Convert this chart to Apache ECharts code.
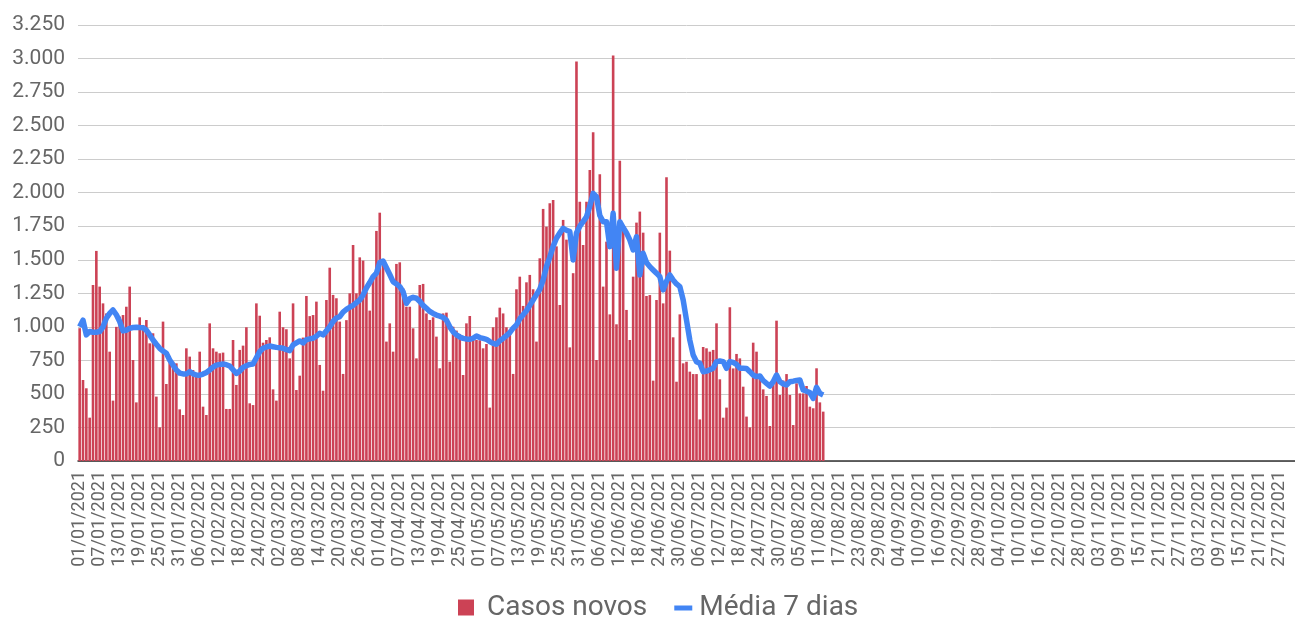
<!DOCTYPE html>
<html>
<head>
<meta charset="utf-8">
<title>Casos novos 2021</title>
<script src="https://cdn.jsdelivr.net/npm/echarts@6/dist/echarts.min.js"></script>
<style>
  html, body { margin: 0; padding: 0; background: #fff; }
  #chart { width: 1295px; height: 618px; }
</style>
</head>
<body>
<div id="chart"></div>
<script>
  // eixo x: todos os dias de 2021
  const ano = 2021;
  const dias = [];
  for (let d = new Date(Date.UTC(ano, 0, 1)); d.getUTCFullYear() === ano; d.setUTCDate(d.getUTCDate() + 1)) {
    const dd = String(d.getUTCDate()).padStart(2, '0');
    const mm = String(d.getUTCMonth() + 1).padStart(2, '0');
    dias.push(dd + '/' + mm + '/' + ano);
  }

  // casos novos por dia (01/01 a 12/08)
  const casosNovos = [
    990, 604, 542, 323, 1312, 1566, 1300, 1175, 1100, 815,
    450, 1000, 1076, 1088, 1150, 1300, 753, 437, 1071, 1014,
    1051, 877, 952, 480, 251, 1039, 574, 783, 741, 728,
    385, 343, 840, 778, 678, 641, 815, 405, 343, 1026,
    840, 815, 803, 808, 388, 388, 902, 567, 828, 860,
    997, 430, 417, 1175, 1083, 882, 902, 922, 534, 450,
    1113, 997, 982, 765, 1175, 529, 636, 920, 1230, 1080,
    1088, 1188, 716, 524, 1200, 1441, 1238, 1213, 1039, 649,
    1050, 1250, 1610, 1250, 1518, 1494, 1262, 1121, 1374, 1715,
    1851, 1461, 890, 1026, 815, 1469, 1481, 1287, 1150, 1150,
    989, 765, 1312, 1320, 1100, 1051, 1071, 927, 691, 1100,
    1106, 740, 1001, 972, 947, 641, 1026, 1081, 930, 902,
    900, 840, 872, 398, 997, 1071, 1143, 1100, 997, 964,
    649, 1280, 1374, 1156, 1332, 1387, 1280, 890, 1511, 1879,
    1747, 1921, 1946, 1600, 1163, 1797, 1650, 847, 1400, 2977,
    1933, 1610, 1933, 2169, 2450, 753, 2137, 1300, 1635, 1093,
    3022, 1019, 2239, 1722, 1126, 902, 1374, 1777, 1859, 1702,
    1230, 1237, 599, 1200, 1702, 1175, 2115, 1568, 922, 591,
    1093, 728, 740, 666, 648, 648, 310, 850, 840, 815,
    828, 1026, 609, 323, 398, 1146, 690, 798, 765, 554,
    331, 251, 882, 815, 648, 534, 485, 261, 600, 1046,
    492, 600, 648, 492, 268, 579, 504, 504, 559, 405,
    393, 691, 437, 368
  ];

  // media movel de 7 dias
  const media7 = [
    1000, 1050, 940, 965, 960, 960, 965, 1000, 1064, 1100,
    1126, 1090, 1040, 970, 975, 989, 995, 997, 995, 994,
    975, 940, 902, 870, 840, 820, 803, 753, 715, 678,
    655, 649, 649, 666, 650, 641, 640, 648, 660, 678,
    700, 715, 720, 723, 718, 708, 680, 653, 670, 698,
    710, 720, 723, 770, 815, 840, 850, 857, 852, 847,
    845, 840, 830, 823, 865, 880, 895, 880, 905, 910,
    915, 930, 952, 940, 970, 1001, 1040, 1066, 1076, 1110,
    1130, 1146, 1160, 1180, 1200, 1238, 1290, 1330, 1374, 1400,
    1480, 1491, 1440, 1390, 1337, 1320, 1300, 1262, 1175, 1210,
    1220, 1213, 1190, 1160, 1138, 1115, 1100, 1088, 1080, 1070,
    1050, 1000, 964, 940, 925, 914, 910, 907, 915, 932,
    920, 914, 907, 890, 877, 870, 895, 914, 935, 957,
    990, 1014, 1060, 1090, 1120, 1160, 1200, 1240, 1280, 1349,
    1450, 1520, 1600, 1660, 1700, 1735, 1720, 1710, 1498, 1700,
    1750, 1784, 1820, 1900, 1995, 1970, 1830, 1784, 1784, 1598,
    1846, 1436, 1784, 1740, 1700, 1648, 1573, 1672, 1387, 1548,
    1480, 1449, 1424, 1400, 1374, 1275, 1340, 1387, 1349, 1320,
    1300, 1200, 1050, 900, 790, 740, 728, 665, 670, 680,
    691, 741, 745, 741, 691, 741, 735, 720, 691, 691,
    690, 666, 640, 629, 634, 600, 579, 559, 591, 641,
    591, 575, 567, 591, 595, 600, 604, 529, 520, 510,
    467, 549, 504, 492
  ];

  const yMax = 3250;
  const yStep = 250;

  // 1.000 -> separador de milhar com ponto
  function milhar(v) {
    return String(v).replace(/\B(?=(\d{3})+(?!\d))/g, '.');
  }

  const chart = echarts.init(document.getElementById('chart'));
  chart.setOption({
    animation: false,
    textStyle: { fontFamily: 'Roboto' },
    grid: { left: 78, right: 0, top: 25, bottom: 157 },
    legend: {
      top: 594,
      left: 458,
      padding: 0,
      itemWidth: 24,
      itemHeight: 17,
      itemGap: 23,
      textStyle: { fontSize: 28, color: '#666' },
      data: [
        // os "M" extras so fixam a caixa do icone
        { name: 'Casos novos', icon: 'path://M0,0 M24,17 M0,0 H16 V16 H0 Z' },
        { name: 'Média 7 dias', icon: 'path://M0,0 M24,17 M4,6 H22 V11 H4 Z' }
      ]
    },
    xAxis: {
      type: 'category',
      data: dias,
      boundaryGap: true,
      axisLine: { lineStyle: { color: '#333', width: 1.5 } },
      axisTick: { show: false },
      axisLabel: {
        rotate: 90,
        interval: 5,
        fontSize: 18,
        color: '#666',
        margin: 10
      }
    },
    yAxis: {
      type: 'value',
      min: 0,
      max: yMax,
      interval: yStep,
      axisLine: { show: false },
      axisTick: { show: false },
      axisLabel: { fontSize: 21, color: '#666', margin: 13, formatter: milhar },
      splitLine: { lineStyle: { color: '#ccc', width: 1 } }
    },
    series: [
      {
        name: 'Casos novos',
        type: 'bar',
        data: casosNovos,
        barWidth: '78%',
        itemStyle: { color: '#cc4255' }
      },
      {
        name: 'Média 7 dias',
        type: 'line',
        data: media7,
        symbol: 'none',
        lineStyle: { color: '#4285f4', width: 5.5, join: 'round' },
        itemStyle: { color: '#4285f4' }
      }
    ]
  });
</script>
</body>
</html>
